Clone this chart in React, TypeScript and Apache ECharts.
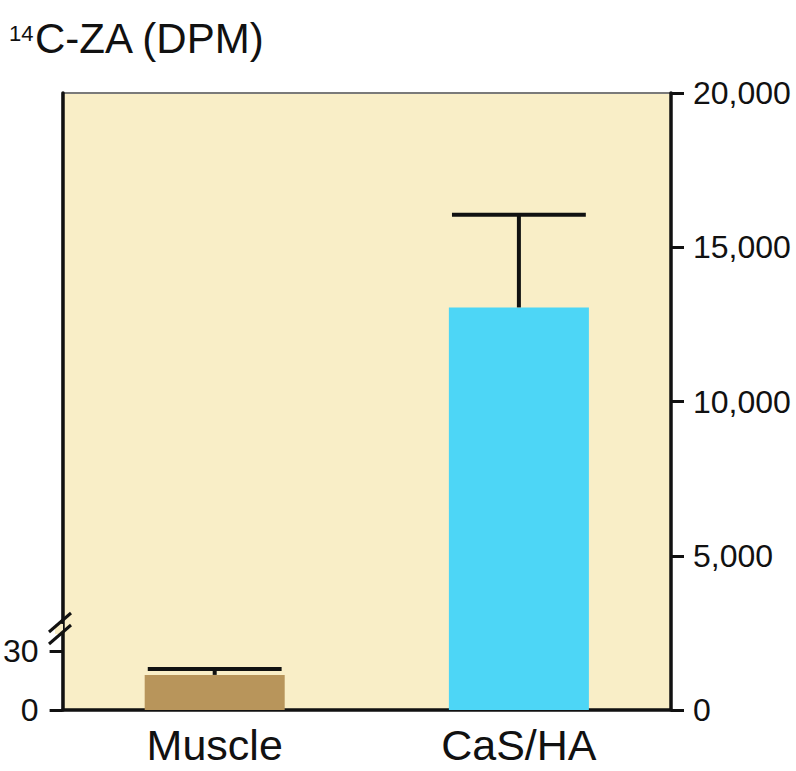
import React, { useEffect, useRef } from "react";
import * as echarts from "echarts";

const categories = ["Muscle", "CaS/HA"];
const muscleMean = [18, "-"];
const muscleUpper = [21, "-"];
const cashaMean = ["-", 13050];
const cashaUpper = ["-", 16050];
const rightTicks = [0, 5000, 10000, 15000, 20000];
const leftTicks = [0, 30];

const FONT = "'Liberation Sans', Arial, Helvetica, sans-serif";

function errorSeries(name: string, means: any[], uppers: any[], yAxisIndex: number) {
  const data: any[] = [];
  means.forEach((m, i) => {
    if (m !== "-") data.push([i, m, uppers[i]]);
  });
  return {
    name,
    type: "custom",
    yAxisIndex,
    z: 5,
    silent: true,
    data,
    renderItem: (params: any, api: any) => {
      const x = api.value(0);
      const base = api.coord([x, api.value(1)]);
      const top = api.coord([x, api.value(2)]);
      const half = api.size([1, 0])[0] * 0.22;
      const style = { stroke: "#111", lineWidth: 4 };
      return {
        type: "group",
        children: [
          { type: "line", shape: { x1: base[0], y1: base[1], x2: top[0], y2: top[1] }, style },
          { type: "line", shape: { x1: top[0] - half, y1: top[1], x2: top[0] + half, y2: top[1] }, style },
        ],
      };
    },
  };
}

export default function App() {
  const ref = useRef<HTMLDivElement>(null);
  useEffect(() => {
    if (!ref.current) return;
    const chart = echarts.init(ref.current, undefined, { renderer: "svg" });
    const option: any = {
      animation: false,
      textStyle: { fontFamily: FONT },
      grid: {
        left: 58.5,
        right: 125,
        top: 93,
        bottom: 61,
        show: true,
        backgroundColor: "#F9EEC7",
        borderColor: "#7a7a7a",
        borderWidth: 2,
      },
      xAxis: {
        type: "category",
        data: categories,
        axisLine: { lineStyle: { color: "#111", width: 3.5 } },
        axisTick: { alignWithLabel: true, length: 10, lineStyle: { color: "#111", width: 3.5 } },
        axisLabel: { fontSize: 43, color: "#111", margin: 13, fontFamily: FONT },
        splitLine: { show: false },
      },
      yAxis: [
        {
          type: "value",
          position: "right",
          min: 0,
          max: 20000,
          interval: 5000,
          axisLine: { show: true, lineStyle: { color: "#111", width: 3.5 } },
          axisTick: {
            show: true,
            length: 13,
            lineStyle: { color: "#111", width: 3 },
            customValues: rightTicks,
          },
          axisLabel: {
            fontSize: 32,
            color: "#111",
            margin: 22,
            fontFamily: FONT,
            customValues: rightTicks,
            formatter: (v: number) => v.toLocaleString("en-US"),
          },
          splitLine: { show: false },
        },
        {
          type: "value",
          position: "left",
          min: 0,
          max: 316.4,
          axisLine: { show: true, lineStyle: { color: "#111", width: 3.5 } },
          axisTick: {
            show: true,
            length: 13,
            lineStyle: { color: "#111", width: 3 },
            customValues: leftTicks,
          },
          axisLabel: {
            fontSize: 32,
            color: "#111",
            margin: 24,
            fontFamily: FONT,
            customValues: leftTicks,
          },
          splitLine: { show: false },
        },
      ],
      series: [
        {
          name: "Muscle",
          type: "bar",
          yAxisIndex: 1,
          data: muscleMean,
          barWidth: 140,
          barGap: "-100%",
          itemStyle: { color: "#B8955B" },
          z: 2,
        },
        {
          name: "CaS/HA",
          type: "bar",
          yAxisIndex: 0,
          data: cashaMean,
          barWidth: 140,
          barGap: "-100%",
          itemStyle: { color: "#4DD6F6" },
          z: 2,
        },
        errorSeries("Muscle error", muscleMean, muscleUpper, 1),
        errorSeries("CaS/HA error", cashaMean, cashaUpper, 0),
      ],
      graphic: [
        {
          type: "text",
          left: 9,
          top: 22,
          style: { text: "14", fontSize: 22, fill: "#111", fontFamily: FONT },
        },
        {
          type: "text",
          left: 35,
          top: 17,
          style: { text: "C-ZA (DPM)", fontSize: 42, fill: "#111", fontFamily: FONT },
        },
        {
          type: "rect",
          shape: { x: 55, y: 624, width: 8, height: 10 },
          style: { fill: "#F9EEC7" },
          z: 50,
        },
        {
          type: "line",
          shape: { x1: 49, y1: 632, x2: 71, y2: 613 },
          style: { stroke: "#111", lineWidth: 3 },
          z: 51,
        },
        {
          type: "line",
          shape: { x1: 49, y1: 644, x2: 71, y2: 625 },
          style: { stroke: "#111", lineWidth: 3 },
          z: 51,
        },
      ],
    };
    chart.setOption(option);
    return () => chart.dispose();
  }, []);
  return (
    <div
      ref={ref}
      style={{ position: "absolute", left: 0, top: 0, width: 796, height: 771, background: "#fff" }}
    />
  );
}
